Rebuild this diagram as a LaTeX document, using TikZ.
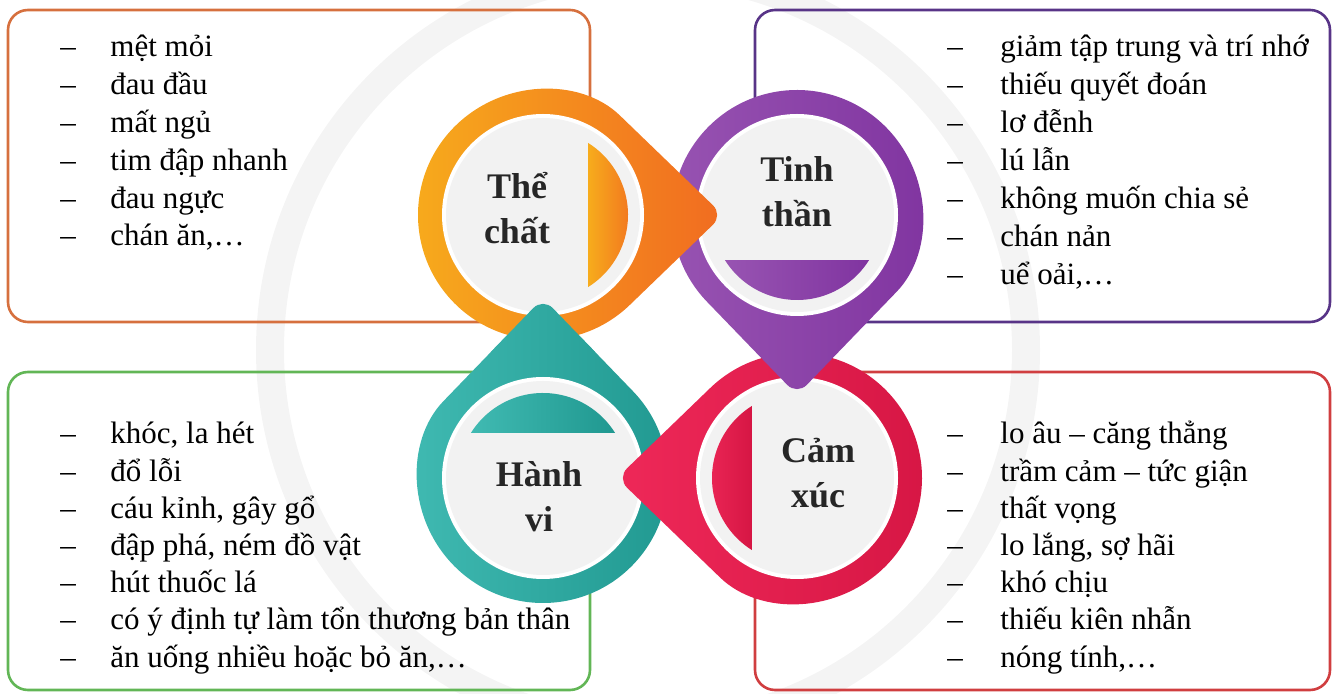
\documentclass[tikz,border=0pt]{standalone}
\usepackage{fontspec}
\setmainfont{Liberation Serif}
\definecolor{boxThe}{RGB}{214,112,62}
\definecolor{boxTinh}{RGB}{88,52,135}
\definecolor{boxHanh}{RGB}{98,182,86}
\definecolor{boxCam}{RGB}{208,62,64}
\definecolor{theA}{RGB}{247,172,28}
\definecolor{theB}{RGB}{241,108,32}
\definecolor{tinhA}{RGB}{152,84,178}
\definecolor{tinhB}{RGB}{128,52,160}
\definecolor{hanhA}{RGB}{64,186,178}
\definecolor{hanhB}{RGB}{32,152,144}
\definecolor{camA}{RGB}{238,40,88}
\definecolor{camB}{RGB}{214,22,68}

\tikzset{
  box/.style={rounded corners=10pt, line width=1.3pt},
  dashmark/.style={anchor=base, inner sep=0pt, font=\fontsize{15.5}{19}\selectfont},
  listitem/.style={anchor=base west, inner sep=0pt, font=\fontsize{15.5}{19}\selectfont},
  heading/.style={align=center, inner sep=0pt, text=black!85, font=\bfseries\fontsize{18}{22.5}\selectfont},
  pics/droppin/.style 2 args={code={
    \shade[left color=#1, right color=#2] (46:125) arc[start angle=46, end angle=314, radius=125]
      [rounded corners=7pt] -- (180,0) -- cycle;
    \fill[white] (0,0) circle (101);
    \fill[gray!10] (0,0) circle (97);
    \shade[left color=#1, right color=#2] (-58:85) arc[start angle=-58, end angle=58, radius=85] -- cycle;
  }}
}

\begin{document}
\begin{tikzpicture}[x=0.5pt,y=0.5pt]
    \useasboundingbox (0,0) rectangle (1334,-694);
    % faint watermark ring
    \draw[gray!9, line width=14pt] (648,-350) circle (378);

    \draw[box, draw=boxThe] (8,-10) rectangle (590,-322);
    \draw[box, draw=boxTinh] (755,-10) rectangle (1330,-322);
    \draw[box, draw=boxHanh] (8,-372) rectangle (590,-690);
    \draw[box, draw=boxCam] (755,-372) rectangle (1330,-690);

    \foreach \t [count=\i] in {mệt mỏi, đau đầu, mất ngủ, tim đập nhanh, đau ngực, {chán ăn,\ldots}} {
        \node[dashmark] (tcd\i) at (68,{-57-37.8*(\i-1)}) {--};
        \node[listitem] (tc\i) at (110,{-57-37.8*(\i-1)}) {\t};
    }
    \foreach \t [count=\i] in {giảm tập trung và trí nhớ, thiếu quyết đoán, lơ đễnh, lú lẫn, không muốn chia sẻ, chán nản, {uể oải,\ldots}} {
        \node[dashmark] (ttd\i) at (955,{-57-38*(\i-1)}) {--};
        \node[listitem] (tt\i) at (1000,{-57-38*(\i-1)}) {\t};
    }
    \foreach \t [count=\i] in {{khóc, la hét}, đổ lỗi, {cáu kỉnh, gây gổ}, {đập phá, ném đồ vật}, hút thuốc lá, có ý định tự làm tổn thương bản thân, {ăn uống nhiều hoặc bỏ ăn,\ldots}} {
        \node[dashmark] (hvd\i) at (68,{-444-37.2*(\i-1)}) {--};
        \node[listitem] (hv\i) at (110,{-444-37.2*(\i-1)}) {\t};
    }
    \foreach \t [count=\i] in {lo âu -- căng thẳng, trầm cảm -- tức giận, thất vọng, {lo lắng, sợ hãi}, khó chịu, thiếu kiên nhẫn, {nóng tính,\ldots}} {
        \node[dashmark] (cxd\i) at (955,{-444-37.2*(\i-1)}) {--};
        \node[listitem] (cx\i) at (1000,{-444-37.2*(\i-1)}) {\t};
    }

    % pins, each tip lies over the next one
    \pic[rotate=90] at (543,-478) {droppin={hanhA}{hanhB}};
    \pic[rotate=180] at (797,-478) {droppin={camA}{camB}};
    \pic[rotate=-90] at (797,-215) {droppin={tinhA}{tinhB}};
    \pic at (543,-215) {droppin={theA}{theB}};
    \begin{scope}
        \clip (400,-290) rectangle (700,-352);
        \pic[rotate=90] at (543,-478) {droppin={hanhA}{hanhB}};
    \end{scope}

    \node[heading] (thechat) at (517,-208) {Thể\\chất};
    \node[heading] (tinhthan) at (797,-192) {Tinh\\thần};
    \node[heading] (hanhvi) at (539,-497) {Hành\\vi};
    \node[heading] (camxuc) at (818,-473) {Cảm\\xúc};
\end{tikzpicture}
\end{document}
